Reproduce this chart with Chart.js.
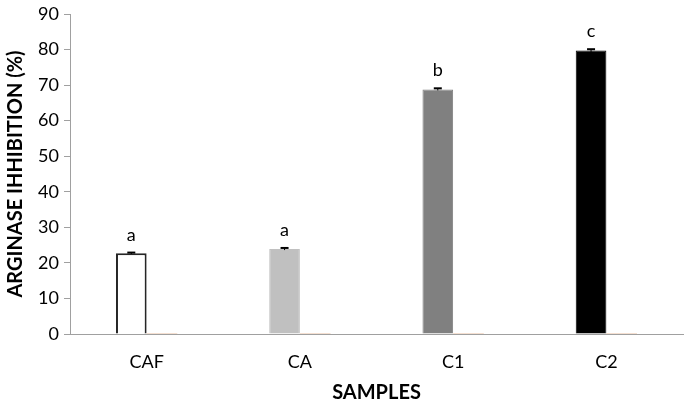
<!DOCTYPE html>
<html>
<head>
<meta charset="utf-8">
<script src="https://cdn.jsdelivr.net/npm/chart.js@4"></script>
<style>
  html, body { margin: 0; padding: 0; background: #fff; }
</style>
</head>
<body>
<canvas id="grafico" width="685" height="405"></canvas>
<script>
const categorias = ['CAF', 'CA', 'C1', 'C2'];
const inhibicion = [22.7, 23.9, 68.8, 79.7];
const errores = [0.2, 0.3, 0.3, 0.4];
const letras = ['a', 'a', 'b', 'c'];
const serieCero = [0, 0, 0, 0];
const ticksY = [0, 10, 20, 30, 40, 50, 60, 70, 80, 90];

const coloresBarra = ['#ffffff', '#c0c0c0', '#808080', '#000000'];
const bordesBarra = ['#262626', '#c0c0c0', '#808080', '#000000'];

const fuente = 'Lato, "Open Sans", sans-serif';

// Barras de error y letras de significancia
const anotaciones = {
    id: 'anotaciones',
    afterDatasetsDraw(chart) {
        const ctx = chart.ctx;
        const meta = chart.getDatasetMeta(0);
        const y = chart.scales.y;
        ctx.save();
        meta.data.forEach((bar, i) => {
            const x = bar.x;
            const top = y.getPixelForValue(inhibicion[i] + errores[i]);
            const bot = y.getPixelForValue(inhibicion[i] - errores[i]);
            ctx.strokeStyle = '#000';
            ctx.lineWidth = 1;
            ctx.beginPath();
            ctx.moveTo(x, top); ctx.lineTo(x, bot);
            ctx.stroke();
            ctx.lineWidth = 2;
            ctx.beginPath();
            ctx.moveTo(x - 4, top); ctx.lineTo(x + 4, top);
            ctx.stroke();

            ctx.fillStyle = '#000';
            ctx.font = '18px ' + fuente;
            ctx.textAlign = 'center';
            ctx.textBaseline = 'alphabetic';
            ctx.fillText(letras[i], x, top - 12);
        });
        ctx.restore();
    }
};

const data = {
    labels: categorias,
    datasets: [{
        data: inhibicion,
        backgroundColor: coloresBarra,
        borderColor: bordesBarra,
        borderWidth: [2, 1, 1, 1],
        borderSkipped: 'bottom'
    }, {
        data: serieCero,
        backgroundColor: 'rgb(232,190,160)',
        borderWidth: 0,
        minBarLength: 1
    }]
};

const config = {
    type: 'bar',
    data: data,
    options: {
        responsive: false,
        animation: false,
        layout: { padding: { top: 12, right: 2, left: 0, bottom: 0 } },
        datasets: { bar: { categoryPercentage: 0.4, barPercentage: 1 } },
        plugins: {
            legend: { display: false },
            tooltip: { enabled: false }
        },
        scales: {
            x: {
                grid: { display: false, drawTicks: false },
                border: { color: '#a0a0a0', width: 1 },
                ticks: { color: '#000', font: { family: fuente, size: 18 }, padding: 17 },
                title: {
                    display: true, text: 'SAMPLES', color: '#000',
                    font: { family: fuente, size: 20, weight: 'bold' }, padding: { top: 4, bottom: 0 }
                },
                afterFit: (scale) => { scale.height = 71; }
            },
            y: {
                min: 0, max: 90,
                afterBuildTicks: (scale) => { scale.ticks = ticksY.map(v => ({ value: v })); },
                grid: { display: true, drawOnChartArea: false, drawTicks: true, tickLength: 6, color: '#a0a0a0' },
                border: { color: '#a0a0a0', width: 1 },
                ticks: { color: '#000', font: { family: fuente, size: 18, lineHeight: 1 }, padding: 5, autoSkip: false },
                title: {
                    display: true, text: 'ARGINASE IHHIBITION (%)', color: '#000',
                    font: { family: fuente, size: 20, weight: 'bold' }, padding: { bottom: 4 }
                },
                afterFit: (scale) => { scale.width = 70; }
            }
        }
    },
    plugins: [anotaciones]
};

const grafico = new Chart(document.querySelector('#grafico'), config);
</script>
</body>
</html>
